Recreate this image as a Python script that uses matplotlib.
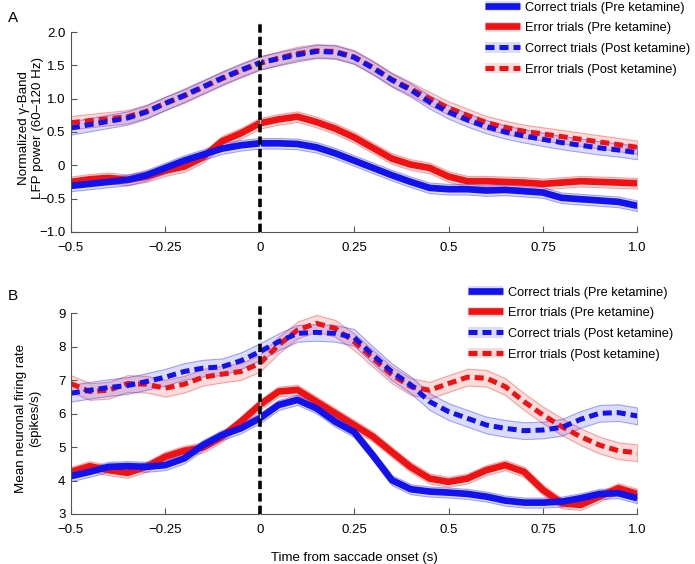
import numpy as np
import matplotlib
matplotlib.use("Agg")
import matplotlib.pyplot as plt
from matplotlib.colors import to_rgba
from matplotlib.lines import Line2D
from matplotlib.patches import Patch
from matplotlib.legend_handler import HandlerTuple

plt.rcParams.update({
    "font.family": ["Liberation Sans", "DejaVu Sans"],
    "font.size": 9,
    "axes.spines.top": False,
    "axes.spines.right": False,
    "axes.edgecolor": "#555555",
    "xtick.direction": "in",
    "ytick.direction": "in",
    "xtick.color": "#555555",
    "ytick.color": "#555555",
    "xtick.labelcolor": "black",
    "ytick.labelcolor": "black",
})

# time axis (s), sampled every 50 ms
t = np.round(np.arange(-0.5, 1.0001, 0.05), 2)

# Panel A: normalized gamma-band LFP power
lfp_correct_pre = [-0.31, -0.28, -0.25, -0.22, -0.15, -0.04, 0.07, 0.16, 0.25, 0.30, 0.33,
                   0.33, 0.32, 0.27, 0.18, 0.07, -0.04, -0.15, -0.25, -0.34, -0.36,
                   -0.36, -0.38, -0.37, -0.39, -0.41, -0.49, -0.51, -0.53, -0.55, -0.61]
lfp_error_pre = [-0.25, -0.21, -0.19, -0.22, -0.17, -0.08, -0.02, 0.12, 0.36, 0.48, 0.63,
                 0.69, 0.73, 0.65, 0.55, 0.42, 0.26, 0.10, 0.01, -0.04, -0.17,
                 -0.24, -0.24, -0.25, -0.26, -0.28, -0.26, -0.24, -0.25, -0.26, -0.27]
lfp_correct_post = [0.56, 0.61, 0.66, 0.71, 0.80, 0.93, 1.05, 1.18, 1.31, 1.43, 1.54,
                    1.60, 1.66, 1.71, 1.70, 1.62, 1.46, 1.28, 1.13, 0.95, 0.80,
                    0.68, 0.58, 0.50, 0.44, 0.39, 0.34, 0.30, 0.26, 0.23, 0.19]
lfp_error_post = [0.64, 0.67, 0.70, 0.73, 0.81, 0.93, 1.04, 1.17, 1.30, 1.42, 1.53,
                  1.61, 1.68, 1.72, 1.71, 1.63, 1.47, 1.29, 1.15, 1.00, 0.86,
                  0.75, 0.64, 0.57, 0.51, 0.47, 0.43, 0.39, 0.35, 0.31, 0.27]

# Panel B: mean firing rate (spikes/s)
fr_correct_pre = [4.13, 4.26, 4.41, 4.43, 4.41, 4.46, 4.66, 5.06, 5.36, 5.56, 5.86,
                  6.26, 6.41, 6.16, 5.76, 5.45, 4.75, 4.01, 3.74, 3.67, 3.64,
                  3.60, 3.52, 3.40, 3.34, 3.34, 3.37, 3.47, 3.60, 3.62, 3.47]
fr_error_pre = [4.26, 4.43, 4.31, 4.23, 4.41, 4.71, 4.89, 4.99, 5.31, 5.76, 6.26,
                6.66, 6.71, 6.36, 6.01, 5.66, 5.31, 4.85, 4.40, 4.06, 3.96,
                4.06, 4.31, 4.46, 4.26, 3.72, 3.32, 3.27, 3.52, 3.77, 3.60]
fr_correct_post = [6.61, 6.70, 6.78, 6.84, 6.96, 7.09, 7.26, 7.36, 7.40, 7.58, 7.85,
                   8.15, 8.40, 8.43, 8.40, 8.28, 7.75, 7.25, 6.86, 6.36, 6.06,
                   5.86, 5.66, 5.56, 5.49, 5.51, 5.59, 5.83, 6.01, 6.03, 5.93]
fr_error_post = [6.90, 6.66, 6.70, 6.90, 6.88, 6.76, 6.88, 7.09, 7.18, 7.26, 7.50,
                 8.05, 8.50, 8.70, 8.55, 8.15, 7.65, 7.16, 6.81, 6.70, 6.90,
                 7.09, 7.06, 6.81, 6.36, 5.96, 5.61, 5.31, 5.06, 4.89, 4.83]

# SEM half-widths of the shaded bands
sem_a = {"pre": 0.08, "post": 0.1}
sem_b = {"pre": 0.15, "post": 0.25}

labels = ["Correct trials (Pre ketamine)", "Error trials (Pre ketamine)",
          "Correct trials (Post ketamine)", "Error trials (Post ketamine)"]
xticks = [-0.5, -0.25, 0, 0.25, 0.5, 0.75, 1.0]
xticklabels = ["\u22120.5", "\u22120.25", "0", "0.25", "0.5", "0.75", "1.0"]

BLUE = "#1212ee"
RED = "#f01212"
DASH = (0, (1.8, 1.0))
LW_SOLID = 4.8
LW_DASH = 3.6


def band(ax, y, err, color, alpha=0.15):
    y = np.asarray(y)
    ax.fill_between(t, y - err, y + err, facecolor=to_rgba(color, alpha),
                    edgecolor=to_rgba(color, 0.35), linewidth=0.8)


def draw_panel(ax, series, sem, ylim, top_ext):
    (c_pre, e_pre, c_post, e_post) = series
    # post ketamine first (upper pair), error under correct
    band(ax, e_post, sem["post"], RED)
    ax.plot(t, e_post, color=RED, lw=LW_DASH, ls=DASH)
    band(ax, c_post, sem["post"], BLUE)
    ax.plot(t, c_post, color=BLUE, lw=LW_DASH, ls=DASH)
    band(ax, e_pre, sem["pre"], RED)
    ax.plot(t, e_pre, color=RED, lw=LW_SOLID, solid_capstyle="butt")
    band(ax, c_pre, sem["pre"], BLUE)
    ax.plot(t, c_pre, color=BLUE, lw=LW_SOLID, solid_capstyle="butt")

    ax.plot([0, 0], [ylim[0], top_ext], color="#d8d8d8", lw=0.8, clip_on=False, zorder=4)
    ax.plot([0, 0], [ylim[0], top_ext], color="black", lw=2.6, ls=(0, (2.3, 1.15)),
            clip_on=False, zorder=5)
    ax.set_xlim(-0.5, 1.0)
    ax.set_ylim(*ylim)
    ax.set_xticks(xticks)
    ax.set_xticklabels(xticklabels)
    ax.tick_params(length=4, width=0.8, labelsize=9.5)
    ax.tick_params(axis="x", pad=7)
    ax.tick_params(axis="y", pad=4)


def make_legend(fig, x, y):
    handles = []
    for color, lw, ls in [(BLUE, LW_SOLID, "-"), (RED, LW_SOLID, "-"),
                          (BLUE, LW_DASH, DASH), (RED, LW_DASH, DASH)]:
        handles.append((Patch(facecolor=to_rgba(color, 0.15), edgecolor="none"),
                        Line2D([], [], color=color, lw=lw, ls=ls,
                               solid_capstyle="butt", dash_capstyle="butt")))
    fig.legend(handles, labels, handler_map={tuple: HandlerTuple(ndivide=1)},
               loc="upper left", bbox_to_anchor=(x, y), frameon=False,
               fontsize=9.2, borderpad=0, borderaxespad=0, handlelength=2.75,
               handleheight=0.85, handletextpad=0.35, labelspacing=0.64)


fig = plt.figure(figsize=(6.95, 5.64), dpi=100)
ax_a = fig.add_axes([0.102, 0.589, 0.815, 0.354])
ax_b = fig.add_axes([0.102, 0.0887, 0.815, 0.3558])

draw_panel(ax_a, (lfp_correct_pre, lfp_error_pre, lfp_correct_post, lfp_error_post),
           sem_a, (-1.0, 2.0), 2.135)
ax_a.set_yticks([-1.0, -0.5, 0, 0.5, 1.0, 1.5, 2.0])
ax_a.set_yticklabels(["\u22121.0", "\u22120.5", "0", "0.5", "1.0", "1.5", "2.0"])
ax_a.set_ylabel("Normalized \u03b3-Band\nLFP power (60\u2013120 Hz)", fontsize=9.6)
ax_a.yaxis.set_label_coords(-0.048, 0.52)

draw_panel(ax_b, (fr_correct_pre, fr_error_pre, fr_correct_post, fr_error_post),
           sem_b, (3, 9), 9.25)
ax_b.set_yticks([3, 4, 5, 6, 7, 8, 9])
ax_b.set_ylabel("Mean neuronal firing rate\n(spikes/s)", fontsize=9.6)
ax_b.yaxis.set_label_coords(-0.053, 0.478)
ax_b.set_xlabel("Time from saccade onset (s)", fontsize=9.5, labelpad=12)

make_legend(fig, 485 / 695, 1 - 1 / 564)
make_legend(fig, 468 / 695, 1 - 286 / 564)

fig.text(8 / 695, 1 - 18 / 564, "A", fontsize=11, va="center")
fig.text(8 / 695, 1 - 296 / 564, "B", fontsize=11, va="center")

fig.savefig("out.png", dpi=100)
